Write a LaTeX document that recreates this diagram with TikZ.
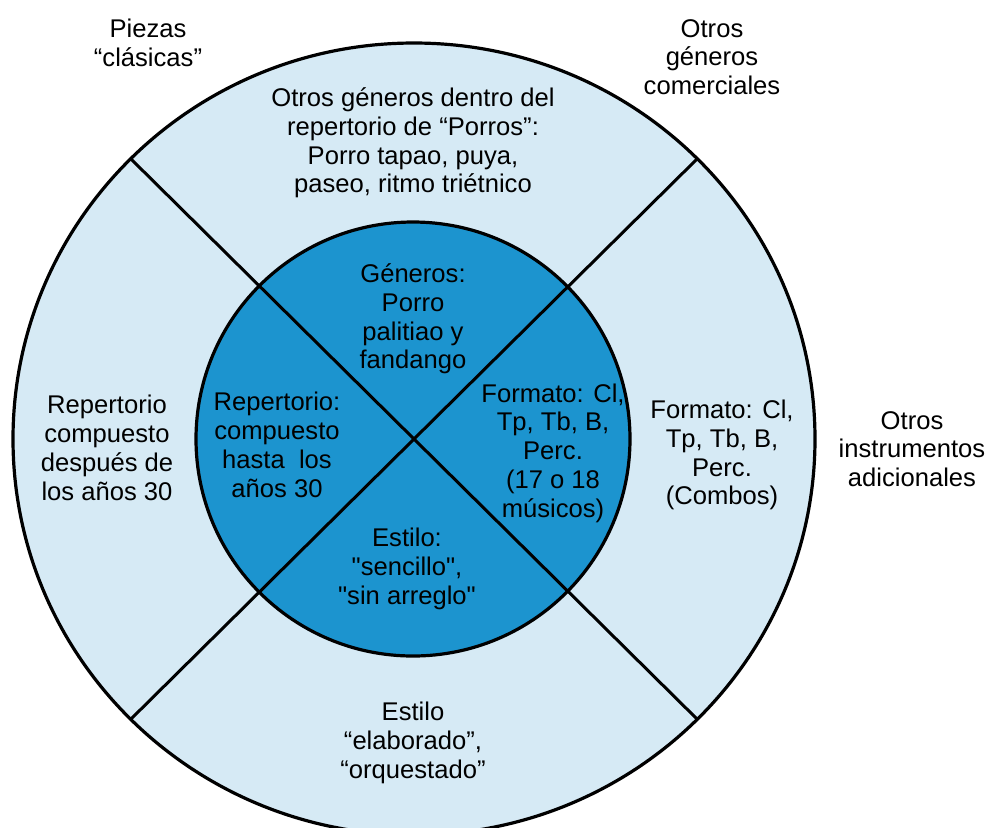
\documentclass[tikz,border=0pt]{standalone}
\usepackage{fontspec}
\setmainfont{Liberation Sans}[Ligatures=TeXOff]
\usetikzlibrary{shapes.geometric}
\definecolor{lightblue}{RGB}{214,234,245}
\definecolor{darkblue}{RGB}{28,148,207}
\begin{document}
\begin{tikzpicture}[x=0.5pt,y=-0.5pt,
  lbl/.style={align=center,inner sep=0pt,font=\fontsize{12.8}{14.4}\selectfont,text=black},
  divline/.style={draw=black,line width=1.5pt},
  ring/.style={draw=black,line width=1.6pt}]
\useasboundingbox (0,0) rectangle (990,827);
% outer disc
\node[ellipse,fill=lightblue,minimum width=802*0.5pt,minimum height=792*0.5pt,inner sep=0pt] (outer) at (414,439) {};
% inner disc
\node[circle,fill=darkblue,minimum size=434*0.5pt,inner sep=0pt] (inner) at (413,439) {};
% dividing lines (end points on the outer ring)
\coordinate (tl) at (131,159);
\coordinate (br) at (697,719);
\coordinate (tr) at (697,159);
\coordinate (bl) at (131,719);
\draw[divline] (tl) -- (br);
\draw[divline] (tr) -- (bl);
% outlines
\draw[ring] (outer.center) ellipse [x radius=401,y radius=396];
\draw[ring] (inner.center) circle [radius=217];
% outside labels
\node[lbl] (piezas) at (148,43) {Piezas\\“clásicas”};
\node[lbl] (comerc) at (712,57) {Otros\\géneros\\comerciales};
\node[lbl] (instr) at (912,449) {Otros\\instrumentos\\adicionales};
% outer ring labels
\node[lbl] (otop) at (413,143) {Otros géneros dentro del\\repertorio de “Porros”:\\Porro tapao, puya,\\paseo, ritmo triétnico};
\node[lbl] (oleft) at (107,448) {Repertorio\\compuesto\\después de\\los años 30};
\node[lbl] (oright) at (722,455) {Formato: Cl,\\Tp, Tb, B,\\Perc.\\(Combos)};
\node[lbl] (obottom) at (413,743) {Estilo\\“elaborado”,\\“orquestado”};
% inner labels
\node[lbl] (itop) at (413,319) {Géneros:\\Porro\\palitiao y\\fandango};
\node[lbl] (ileft) at (277,445) {Repertorio:\\compuesto\\hasta~~los\\años 30};
\node[lbl] (iright) at (553,453) {Formato: Cl,\\Tp, Tb, B,\\Perc.\\(17 o 18\\músicos)};
\node[lbl] (ibottom) at (407,569) {Estilo:\\"sencillo",\\"sin arreglo"};
\end{tikzpicture}
\end{document}
